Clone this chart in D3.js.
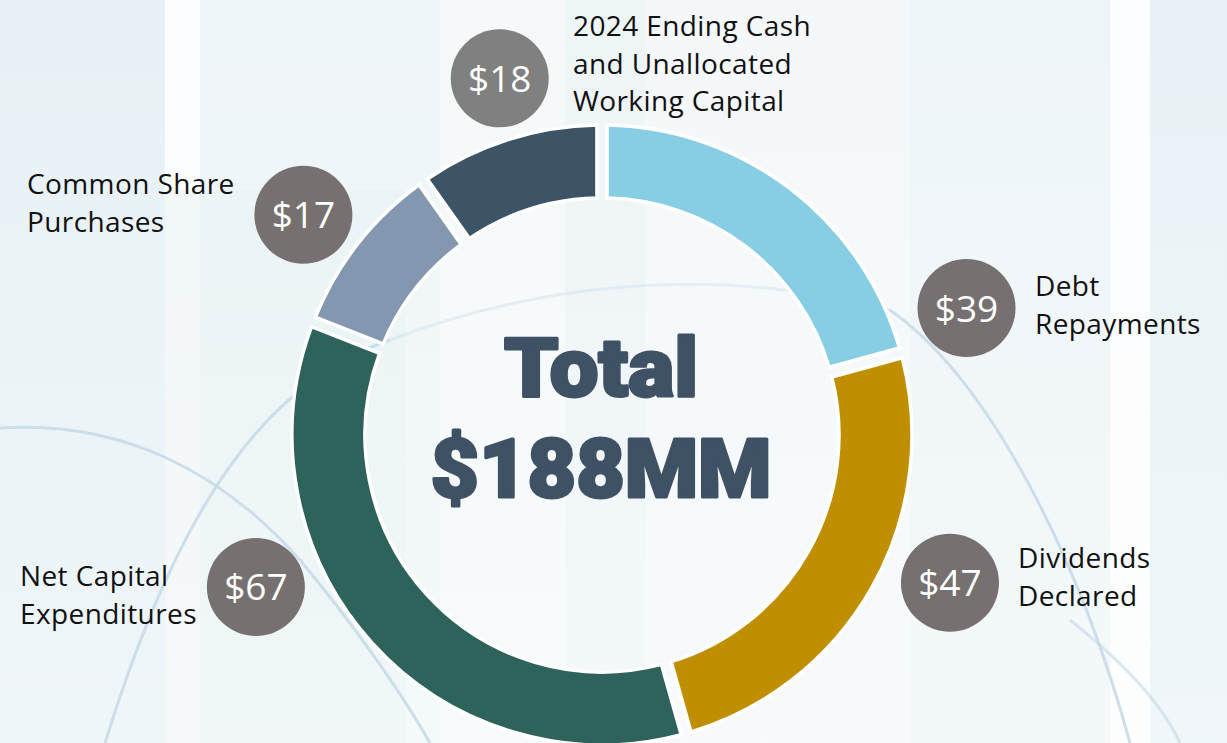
<!DOCTYPE html>
<html>
<head>
<meta charset="utf-8">
<script src="https://cdn.jsdelivr.net/npm/d3@7"></script>
<style>
html,body{margin:0;padding:0;background:#f2f7f9;}
svg{display:block;}
</style>
</head>
<body>
<svg id="chart" width="1227" height="743"></svg>
<script>
// ---------- DATA ----------
const categories = ["Debt Repayments", "Dividends Declared", "Net Capital Expenditures", "Common Share Purchases", "2024 Ending Cash and Unallocated Working Capital"];
const values = [39, 47, 67, 17, 18];
const valueLabels = ["$39", "$47", "$67", "$17", "$18"];
const labelLines = [
  ["Debt", "Repayments"],
  ["Dividends", "Declared"],
  ["Net Capital", "Expenditures"],
  ["Common Share", "Purchases"],
  ["2024 Ending Cash", "and Unallocated", "Working Capital"]
];
const totalLines = ["Total", "$188MM"];

// ---------- STYLE / LAYOUT ----------
const W = 1227, H = 743;
const cx = 602, cy = 435, outerR = 310, innerR = 237;
const sliceColors = ["#87CEE4", "#BF8F00", "#2D635B", "#8497B0", "#3D5366"];
const badgeColors = ["#767170", "#767170", "#767170", "#767170", "#808080"];
const badgeAngles = [70.8, 113, 246.3, 306.4, 344];   // degrees clockwise from top
const badgeRadii = [386, 378, 378, 371, 371];
const badgeR = 49;
const labelPos = [ [1035, 296], [1018, 568], [20, 586], [27, 194], [573, 36] ];
const lineGap = 37.5;

const svg = d3.select("#chart");

// ---------- BACKGROUND ----------
const bg = svg.append("g");
const bgRects = [
  {x:0, y:0, w:1227, h:743, c:"#f1f6f8"},
  {x:0, y:0, w:165, h:743, c:"#e7f1f5"},
  {x:165, y:0, w:36, h:190, c:"#fbfdfe"},
  {x:200, y:0, w:240, h:190, c:"#eef5f8"},
  {x:200, y:190, w:205, h:553, c:"#e9f3f5"},
  {x:405, y:190, w:35, h:553, c:"#eff6f8"},
  {x:440, y:0, w:125, h:743, c:"#f5f9fa"},
  {x:565, y:0, w:80, h:743, c:"#eef5f7"},
  {x:645, y:0, w:265, h:743, c:"#f4f8fa"},
  {x:910, y:0, w:200, h:743, c:"#eef5f8"},
  {x:1110, y:0, w:40, h:743, c:"#fcfdfe"},
  {x:1150, y:0, w:77, h:743, c:"#e8f2f6"}
];
bg.selectAll("rect").data(bgRects).join("rect")
  .attr("x", d => d.x).attr("y", d => d.y).attr("width", d => d.w).attr("height", d => d.h)
  .attr("fill", d => d.c);
const grad = svg.append("defs").append("linearGradient").attr("id","fade").attr("x1",0).attr("y1",0).attr("x2",0).attr("y2",1);
grad.append("stop").attr("offset","0%").attr("stop-color","#ffffff").attr("stop-opacity",0);
grad.append("stop").attr("offset","100%").attr("stop-color","#ffffff").attr("stop-opacity",0.35);
bg.append("rect").attr("width",W).attr("height",H).attr("fill","url(#fade)");
const bgCurves = [
  {d:"M105,743 C180,500 270,380 390,340", o:0.85},
  {d:"M390,340 C520,290 700,260 890,310", o:0.35},
  {d:"M890,310 C990,380 1080,560 1130,743", o:0.85},
  {d:"M0,428 C120,420 220,470 300,560 C350,620 400,690 430,743", o:0.85},
  {d:"M1070,620 C1120,660 1160,700 1180,743", o:0.6}
];
bg.selectAll("path").data(bgCurves).join("path")
  .attr("d", d => d.d).attr("fill","none").attr("stroke","#c5d9e6").attr("stroke-width",3).attr("opacity", d => d.o);

// ---------- DONUT ----------
const pie = d3.pie().sort(null).value(d => d).startAngle(0).endAngle(2 * Math.PI).padAngle(0.026);
const arc = d3.arc().innerRadius(innerR).outerRadius(outerR);
const arcs = pie(values);
const g = svg.append("g").attr("transform", `translate(${cx},${cy})`);
g.selectAll("path.slice").data(arcs).join("path")
  .attr("class","slice")
  .attr("d", arc)
  .attr("fill", (d, i) => sliceColors[i])
  .attr("stroke", "#ffffff").attr("stroke-width", 3.5).attr("stroke-linejoin","miter");

// ---------- CENTER TOTAL ----------
const totalWidths = [194, 341];
const totalBaselines = [396, 497];
svg.selectAll("text.total").data(totalLines).join("text")
  .attr("class","total")
  .attr("x", cx - 1)
  .attr("y", (d, i) => totalBaselines[i])
  .attr("text-anchor","middle")
  .attr("font-family","Roboto, 'Liberation Sans', sans-serif")
  .attr("font-weight", 900)
  .attr("font-size", 82)
  .attr("fill","#3E5165").attr("stroke","#3E5165").attr("stroke-width",3).attr("stroke-linejoin","round")
  .attr("textLength", (d, i) => totalWidths[i])
  .attr("lengthAdjust","spacingAndGlyphs")
  .text(d => d);

// ---------- BADGES ----------
const badges = svg.selectAll("g.badge").data(values).join("g")
  .attr("class","badge")
  .attr("transform", (d, i) => {
    const a = badgeAngles[i] * Math.PI / 180;
    return `translate(${cx + badgeRadii[i] * Math.sin(a)},${cy - badgeRadii[i] * Math.cos(a)})`;
  });
badges.append("circle").attr("r", badgeR).attr("fill", (d, i) => badgeColors[i]);
badges.append("text")
  .attr("text-anchor","middle").attr("y", 13.5)
  .attr("font-family","'Open Sans', sans-serif").attr("font-size", 37)
  .attr("fill","#ffffff")
  .text((d, i) => valueLabels[i]);

// ---------- CATEGORY LABELS ----------
const labels = svg.selectAll("text.cat").data(labelLines).join("text")
  .attr("class","cat")
  .attr("font-family","'Open Sans', sans-serif").attr("font-size", 28)
  .attr("letter-spacing", 0.4)
  .attr("fill","#111111");
labels.each(function(lines, i) {
  d3.select(this).selectAll("tspan").data(lines).join("tspan")
    .attr("x", labelPos[i][0])
    .attr("y", (d, j) => labelPos[i][1] + j * lineGap)
    .text(d => d);
});
</script>
</body>
</html>
